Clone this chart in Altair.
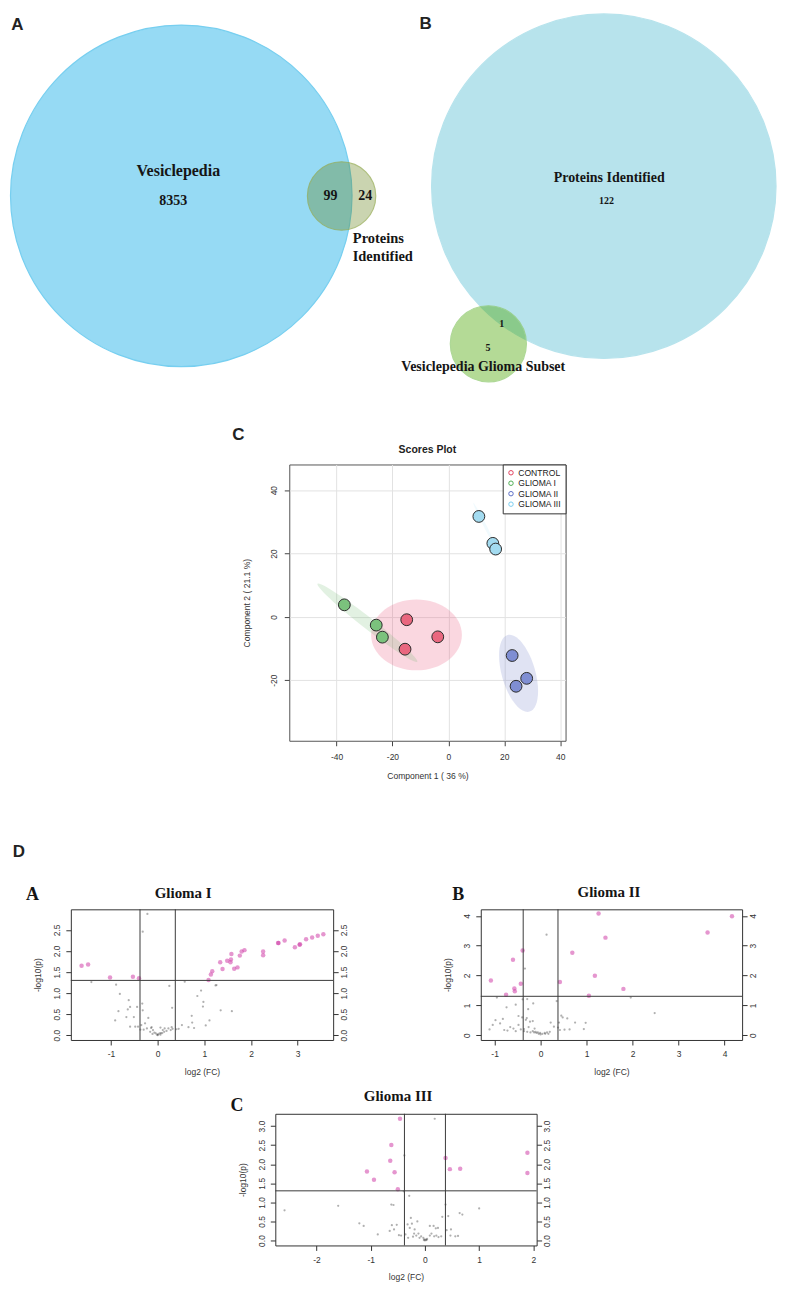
import altair as alt
import pandas as pd

SANS = "Liberation Sans"
SERIF = "Liberation Serif"

# ------------------------------------------------------------------ Venn data
venn_a_only = 8353
venn_a_both = 99
venn_a_prot = 24
venn_b_prot = 122
venn_b_both = 1
venn_b_ves = 5

# circle layout (reference units): centre x, centre y, radius
venn_cx = [176.5, 340.8, 609.5, 491.2]
venn_cy = [186.7, 186.8, 177.0, 335.0]
venn_r = [175.0, 35.0, 176.5, 39.0]
venn_fill = ["#6ACBF0", "#587A08", "#99D8E5", "#4EA808"]
venn_fop = [1.0, 0.45, 1.0, 0.6]
venn_stroke = ["#3EBBEA", "#8FA64A", "#99D8E5", "#8CC86A"]

# ------------------------------------------------------------------ PCA scores
groups = ["CONTROL", "GLIOMA I", "GLIOMA II", "GLIOMA III"]
legend_colors = ["#E2415E", "#4FAE54", "#5D6FC6", "#7ACDEF"]
point_colors = ["#E9677F", "#7BC27D", "#7F8ED3", "#A3DBF0"]
pc_group = ["CONTROL"] * 3 + ["GLIOMA I"] * 3 + ["GLIOMA II"] * 3 + ["GLIOMA III"] * 3
pc1 = [-14.9, -3.8, -15.5, -37.2, -25.8, -23.6, 22.8, 28.0, 24.2, 10.9, 15.9, 16.9]
pc2 = [-0.9, -6.3, -10.2, 3.8, -2.6, -6.4, -12.2, -19.4, -21.9, 31.7, 23.2, 21.4]

# confidence ellipses: centre (data units)
ell_c1 = [-11.4, -28.95, 25.1, 13.6]
ell_c2 = [-5.7, -1.85, -17.8, 27.9]
# ellipse drawing style: long axis (px), axis ratio, rotation, colour, opacity
ell_len = [91, 127, 80, 58]
ell_ratio = [0.78, 0.09, 0.42, 0.05]
ell_angle = [0, 38, 74, 63]
ell_color = ["#E85078", "#64B464", "#6E7DC8", "#7ACDEF"]
ell_op = [0.33, 0.27, 0.3, 0.15]

# ------------------------------------------------------------------ volcano data (log2 FC, -log10 p)
g1_sig = [(-1.63, 1.65), (-1.49, 1.68), (-1.02, 1.37), (-0.53, 1.39), (-0.40, 1.35),
          (1.09, 1.31), (1.14, 1.44), (1.17, 1.52), (1.34, 1.73), (1.39, 1.57),
          (1.49, 1.77), (1.56, 1.73), (1.57, 1.80), (1.58, 1.93), (1.64, 1.58),
          (1.71, 1.61), (1.76, 1.89), (1.80, 1.99), (1.86, 2.02), (2.26, 1.99),
          (2.26, 1.90), (2.58, 2.19), (2.59, 2.19), (2.72, 2.25), (2.94, 2.09),
          (3.04, 2.15), (3.05, 2.16), (3.18, 2.28), (3.31, 2.32), (3.43, 2.36),
          (3.55, 2.40)]
g1_ns = [(-0.22, 2.88), (-0.32, 2.46), (-1.42, 1.26), (-0.89, 1.20), (-0.81, 0.98),
         (-0.62, 0.83), (-0.59, 0.67), (-0.64, 0.61), (-0.44, 0.67), (-0.33, 0.75),
         (-0.32, 0.59), (-0.84, 0.57), (-0.67, 0.43), (-0.51, 0.43), (-0.91, 0.35),
         (-0.59, 0.20), (-0.48, 0.20), (-0.35, 0.24), (-0.27, 0.28), (-0.20, 0.41),
         (-0.30, 0.13), (-0.14, 0.17), (-0.10, 0.12), (-0.07, 0.06), (-0.04, 0.04),
         (-0.01, 0.01), (0.01, 0.02), (0.04, 0.04), (0.07, 0.05), (0.00, 0.00),
         (0.06, 0.01), (0.10, 0.05), (0.14, 0.08), (0.19, 0.10), (0.15, 0.16),
         (0.23, 0.16), (0.28, 0.12), (0.32, 0.15), (0.40, 0.14), (0.45, 0.15),
         (0.25, 1.17), (0.31, 0.65), (0.58, 1.27), (0.52, 0.24), (0.66, 0.19),
         (0.74, 0.30), (0.73, 0.46), (0.78, 0.17), (0.93, 1.06), (0.85, 0.93),
         (0.98, 0.79), (0.97, 0.68), (1.03, 0.23), (1.11, 0.35), (1.24, 1.18),
         (1.26, 1.19), (1.35, 0.59), (1.59, 0.57), (-0.13, 0.19), (0.06, 0.18),
         (-0.37, 0.13), (-0.42, 0.20), (-0.16, 0.08), (-0.11, 0.03), (0.11, 0.12),
         (0.30, 0.19), (-0.23, 0.16)]

g2_sig = [(1.26, 4.08), (4.16, 3.99), (3.63, 3.44), (1.41, 3.27), (-0.39, 2.84),
          (0.69, 2.76), (-0.60, 2.53), (1.18, 1.99), (-1.08, 1.83), (0.42, 1.78),
          (-0.43, 1.72), (-0.57, 1.56), (-0.56, 1.47), (1.80, 1.55), (-0.75, 1.35),
          (1.05, 1.32)]
g2_ns = [(0.13, 3.37), (-0.34, 2.23), (-0.95, 1.26), (1.96, 1.26), (2.48, 0.74),
         (-0.39, 1.20), (-0.29, 1.21), (-0.16, 1.06), (-0.74, 0.93), (-0.54, 1.02),
         (-0.27, 0.87), (-0.48, 0.64), (-0.40, 0.59), (-0.30, 0.57), (0.35, 1.14),
         (0.45, 0.65), (0.48, 0.59), (0.58, 0.56), (0.75, 0.42), (0.98, 0.41),
         (-0.82, 0.54), (-0.98, 0.50), (-1.11, 0.19), (-1.04, 0.34), (-0.88, 0.39),
         (-0.79, 0.17), (-0.72, 0.15), (-0.66, 0.27), (-0.59, 0.22), (-0.54, 0.13),
         (-0.48, 0.34), (-0.43, 0.19), (-0.36, 0.20), (-0.32, 0.51), (-0.23, 0.45),
         (-0.17, 0.47), (-0.26, 0.27), (-0.36, 0.13), (-0.29, 0.11), (-0.22, 0.09),
         (-0.14, 0.09), (-0.09, 0.07), (-0.04, 0.04), (0.00, 0.02), (0.04, 0.04),
         (0.09, 0.07), (0.14, 0.09), (0.20, 0.11), (-0.11, 0.11), (-0.06, 0.09),
         (-0.01, 0.07), (0.10, 0.04), (0.17, 0.04), (-0.17, 0.13), (-0.13, 0.22),
         (0.22, 0.42), (0.29, 0.28), (0.38, 0.25), (0.42, 0.17), (0.52, 0.18),
         (0.63, 0.19), (0.94, 0.20), (0.40, 0.42)]

g3_sig = [(-0.46, 3.19), (-0.62, 2.50), (-0.64, 2.09), (-1.07, 1.81), (-0.94, 1.59),
          (-0.56, 1.79), (-0.50, 1.34), (0.38, 2.16), (0.46, 1.87), (0.65, 1.88),
          (1.89, 2.30), (1.89, 1.77)]
g3_ns = [(0.18, 3.19), (-0.38, 2.23), (-0.29, 1.17), (-0.39, 1.29), (-2.59, 0.79),
         (-1.60, 0.91), (-0.62, 0.94), (-0.58, 0.93), (0.38, 0.94), (1.00, 0.84),
         (0.64, 0.72), (0.69, 0.68), (0.43, 0.64), (0.32, 0.62), (-1.21, 0.45),
         (-1.13, 0.38), (-0.87, 0.16), (-0.61, 0.40), (-0.52, 0.41), (-0.26, 0.59),
         (-0.14, 0.50), (-0.65, 0.25), (-0.57, 0.29), (-0.48, 0.14), (-0.44, 0.13),
         (-0.36, 0.16), (-0.32, 0.42), (-0.28, 0.33), (-0.24, 0.44), (-0.19, 0.29),
         (-0.16, 0.13), (-0.12, 0.18), (-0.07, 0.11), (-0.03, 0.07), (-0.01, 0.03),
         (0.02, 0.02), (0.04, 0.04), (0.09, 0.38), (0.16, 0.38), (0.20, 0.32),
         (0.24, 0.33), (0.12, 0.18), (0.17, 0.11), (0.21, 0.13), (0.25, 0.09),
         (0.30, 0.11), (0.40, 0.27), (0.48, 0.29), (0.47, 0.13), (0.56, 0.11),
         (0.61, 0.12), (0.09, 0.13), (-0.10, 0.07), (-0.22, 0.10), (-0.31, 0.07),
         (-0.20, 0.18), (0.00, 0.00), (0.03, 0.01), (-0.02, 0.01)]

fc_cut = [-0.378, 0.378]
p_cut = [1.301]


# ------------------------------------------------------------------ helpers
def label(text, dx, dy, size, font=SERIF, color="#151515"):
    return alt.Chart(pd.DataFrame({"t": [text]})).mark_text(
        font=font, fontWeight="bold", fontSize=size, color=color,
        align="center", baseline="middle"
    ).encode(text="t:N", x=alt.value(dx), y=alt.value(dy))


def frame(left, top, right, bottom):
    """invisible rectangle fixing the bounding box of a panel (layout only)"""
    return alt.Chart(pd.DataFrame({"a": [0]})).mark_rect(opacity=0).encode(
        x=alt.value(left), x2=alt.value(right), y=alt.value(top), y2=alt.value(bottom))


def spacer():
    return frame(0, 0, 1, 1).properties(width=1, height=1)


# ------------------------------------------------------------------ Venn row
VW = 768
K = VW / 785
vx = alt.Scale(domain=[2, 787], nice=False, zero=False)
vy = alt.Scale(domain=[0, 380], nice=False, zero=False, reverse=True)
circ_df = pd.DataFrame({
    "cx": venn_cx, "cy": venn_cy,
    "sz": [(2 * r * K) ** 2 for r in venn_r],
    "fill": venn_fill, "fop": venn_fop, "stroke": venn_stroke,
})
venn_circles = alt.Chart(circ_df).mark_point(shape="circle", filled=True, strokeWidth=1.2).encode(
    x=alt.X("cx:Q", scale=vx, axis=None),
    y=alt.Y("cy:Q", scale=vy, axis=None),
    size=alt.Size("sz:Q", scale=None),
    fill=alt.Fill("fill:N", scale=None),
    fillOpacity=alt.FillOpacity("fop:Q", scale=None),
    stroke=alt.Stroke("stroke:N", scale=None),
)
venn_text_df = pd.DataFrame({
    "t": ["Vesiclepedia", str(venn_a_only), str(venn_a_both), str(venn_a_prot), "Proteins", "Identified",
          "Proteins Identified", str(venn_b_prot), str(venn_b_both), str(venn_b_ves),
          "Vesiclepedia Glioma Subset"],
    "x": [173.5, 168.3, 329.3, 365.0, 378.5, 383.0, 615.0, 612.3, 505.0, 490.7, 486.0],
    "y": [161.7, 191.7, 187.0, 187.0, 230.0, 248.3, 168.3, 191.7, 315.0, 339.3, 358.3],
    "fs": [16, 14, 14, 14, 14.5, 14.5, 14, 10, 10, 10, 14],
})
venn_text = alt.Chart(venn_text_df).mark_text(
    font=SERIF, fontWeight="bold", color="#151515", align="center", baseline="middle"
).encode(
    x=alt.X("x:Q", scale=vx, axis=None),
    y=alt.Y("y:Q", scale=vy, axis=None),
    text="t:N",
    size=alt.Size("fs:Q", scale=None),
)
venn_letters = alt.Chart(pd.DataFrame({"t": ["A", "B"], "x": [8.5, 427.0], "y": [15.0, 14.5]})).mark_text(
    font=SANS, fontWeight="bold", fontSize=17, color="#222", align="center", baseline="middle"
).encode(
    x=alt.X("x:Q", scale=vx, axis=None),
    y=alt.Y("y:Q", scale=vy, axis=None),
    text="t:N",
)
venn = alt.layer(venn_circles, venn_text, venn_letters, frame(0, 0, VW, 380)).properties(width=VW, height=380)


# ------------------------------------------------------------------ Scores plot
def ellipse_path(b):
    k = 0.5523
    return (f"M-1,0C-1,{-k*b:.4f},{-k:.4f},{-b:.4f},0,{-b:.4f}"
            f"C{k:.4f},{-b:.4f},1,{-k*b:.4f},1,0"
            f"C1,{k*b:.4f},{k:.4f},{b:.4f},0,{b:.4f}"
            f"C{-k:.4f},{b:.4f},-1,{k*b:.4f},-1,0Z")


s1 = alt.Scale(domain=[-56.9, 41.9], nice=False, zero=False)
s2 = alt.Scale(domain=[-39.1, 48.1], nice=False, zero=False)
axis_common = dict(
    domain=False, grid=True, gridColor="#e2e2e2", gridWidth=1, tickColor="#444", tickSize=5,
    labelFont=SANS, labelFontSize=8.5, labelColor="#333", labelExpr="toString(datum.value)",
    titleFont=SANS, titleFontSize=8.6, titleFontWeight="normal", titleColor="#333",
)
ax1 = alt.Axis(values=[-40, -20, 0, 20, 40], labelPadding=7, title="Component 1 ( 36 %)",
               titlePadding=10, **axis_common)
ax2 = alt.Axis(values=[-20, 0, 20, 40], labelAngle=270, labelAlign="center", labelBaseline="bottom",
               labelPadding=6, title="Component 2 ( 21.1 %)", titlePadding=18, **axis_common)

ell_df = pd.DataFrame({
    "g": groups, "c1": ell_c1, "c2": ell_c2,
    "path": [ellipse_path(b) for b in ell_ratio],
    "sz": [L ** 2 for L in ell_len], "ang": ell_angle, "col": ell_color, "op": ell_op,
})
ellipses = alt.Chart(ell_df).mark_point(filled=True, strokeWidth=0).encode(
    x=alt.X("c1:Q", scale=s1, axis=ax1),
    y=alt.Y("c2:Q", scale=s2, axis=ax2),
    shape=alt.Shape("path:N", scale=None),
    size=alt.Size("sz:Q", scale=None),
    angle=alt.Angle("ang:Q", scale=None),
    fill=alt.Fill("col:N", scale=None),
    fillOpacity=alt.FillOpacity("op:Q", scale=None),
)
pts_df = pd.DataFrame({"g": pc_group, "pc1": pc1, "pc2": pc2})
pts_df["col"] = pts_df["g"].map(dict(zip(groups, point_colors)))
points = alt.Chart(pts_df).mark_point(filled=True, size=140, stroke="#2b2b2b", strokeWidth=1, opacity=1).encode(
    x=alt.X("pc1:Q", scale=s1, axis=ax1),
    y=alt.Y("pc2:Q", scale=s2, axis=ax2),
    fill=alt.Fill("col:N", scale=None),
)
legend_layer = alt.Chart(pts_df).mark_point(filled=False, opacity=0).encode(
    x=alt.X("pc1:Q", scale=s1, axis=ax1),
    y=alt.Y("pc2:Q", scale=s2, axis=ax2),
    stroke=alt.Stroke("g:N", scale=alt.Scale(domain=groups, range=legend_colors),
                      legend=alt.Legend(orient="top-right", offset=0, title=None, strokeColor="#333",
                                        fillColor="white", padding=4, labelFont=SANS, labelFontSize=8.6,
                                        labelColor="#222", symbolType="circle", symbolSize=20,
                                        symbolStrokeWidth=1, symbolOpacity=1, rowPadding=1.5,
                                        labelOffset=3)),
)
# plot area at (278, 455) of the chart; bounding box starts right under the Venn row
scores = alt.layer(
    ellipses, points, legend_layer,
    label("C", -51, -30, 17, font=SANS, color="#222"),
    label("Scores Plot", 138.5, -15, 10.5, font=SANS, color="#222"),
    frame(-277, -75, 277 + 30, 277 + 60),
).properties(width=277, height=277, view=alt.ViewBackground(stroke="#555", strokeWidth=1))


# ------------------------------------------------------------------ volcano plots
def volcano(ns, sig, xdom, ydom, xvals, yvals, yexpr, title, tdx, tdy, letter, ldx, ldy, w, h,
            box, extra=()):
    sx = alt.Scale(domain=xdom, nice=False, zero=False)
    sy = alt.Scale(domain=ydom, nice=False, zero=False)
    com = dict(domain=False, grid=False, tickColor="#333", tickSize=5, labelFont=SANS, labelFontSize=8.5,
               labelColor="#333", titleFont=SANS, titleFontSize=8.5, titleFontWeight="normal",
               titleColor="#333")
    xa = alt.Axis(values=xvals, labelExpr="toString(datum.value)", labelPadding=5,
                  title="log2 (FC)", titlePadding=9, **com)
    ya_l = alt.Axis(orient="left", values=yvals, labelExpr=yexpr, labelAngle=270, labelAlign="center",
                    labelBaseline="bottom", labelPadding=4, title="-log10(p)", titlePadding=10, **com)
    ya_r = alt.Axis(orient="right", values=yvals, labelExpr=yexpr, labelAngle=270, labelAlign="center",
                    labelBaseline="top", labelPadding=1, title=None, **com)
    gray = alt.Chart(pd.DataFrame(ns, columns=["fc", "p"])).mark_circle(size=5, color="#3a3a3a", opacity=0.4).encode(
        x=alt.X("fc:Q", scale=sx, axis=xa), y=alt.Y("p:Q", scale=sy, axis=ya_l))
    pink = alt.Chart(pd.DataFrame(sig, columns=["fc", "p"])).mark_circle(size=20, color="#CF3FA8", opacity=0.55).encode(
        x=alt.X("fc:Q", scale=sx, axis=xa), y=alt.Y("p:Q", scale=sy, axis=ya_r))
    vl = alt.Chart(pd.DataFrame({"v": fc_cut})).mark_rule(color="#3a3a3a", strokeWidth=1).encode(
        x=alt.X("v:Q", scale=sx, axis=xa))
    hl = alt.Chart(pd.DataFrame({"v": p_cut})).mark_rule(color="#3a3a3a", strokeWidth=1).encode(
        y=alt.Y("v:Q", scale=sy, axis=None))
    layers = [gray, pink, vl, hl,
              label(title, tdx, tdy, 15),
              label(letter, ldx, ldy, 18)] + list(extra) + [frame(*box)]
    return alt.layer(*layers).resolve_axis(y="independent").properties(
        width=w, height=h, view=alt.ViewBackground(stroke="#333", strokeWidth=1))


expr1 = "format(datum.value, '.1f')"
expr0 = "toString(datum.value)"
# row 3: plot tops at y=899 (scores box ends at 732+60=792 -> top margin 107)
volc_a = volcano(g1_ns, g1_sig, [-1.86, 3.76], [-0.115, 2.99], [-1, 0, 1, 2, 3], [0, 0.5, 1, 1.5, 2, 2.5],
                 expr1, "Glioma I", 112.6, -16.7, "A", -38.4, -14.4, 263, 131,
                 box=(-58, -107, 263 + 30, 131 + 44),
                 extra=[label("D", -52, -57, 17, font=SANS, color="#222")])
volc_b = volcano(g2_ns, g2_sig, [-1.30, 4.38], [-0.165, 4.22], [-1, 0, 1, 2, 3, 4], [0, 1, 2, 3, 4],
                 expr0, "Glioma II", 128.5, -17.7, "B", -22.7, -14.4, 262, 131,
                 box=(-116, -107, 262 + 30, 131 + 44))
volc_c = volcano(g3_ns, g3_sig, [-2.76, 2.06], [-0.13, 3.32], [-2, -1, 0, 1, 2], [0, 0.5, 1, 1.5, 2, 2.5, 3],
                 expr1, "Glioma III", 123.1, -17.7, "C", -38.4, -8.3, 262, 132,
                 box=(-263, -28, 262 + 30, 132 + 40))

row2 = alt.hconcat(spacer(), scores, spacing=0).resolve_scale(stroke="independent").resolve_legend(
    stroke="independent")
row3 = alt.hconcat(spacer(), volc_a, volc_b, spacing=0)
row4 = alt.hconcat(spacer(), volc_c, spacing=0)

chart = alt.vconcat(
    venn, row2, row3, row4, spacing=0
).resolve_scale(stroke="independent").resolve_legend(stroke="independent").properties(
    padding=0
).configure_view(stroke=None)

chart.save("out.html", embed_options={"renderer": "svg", "actions": False})
